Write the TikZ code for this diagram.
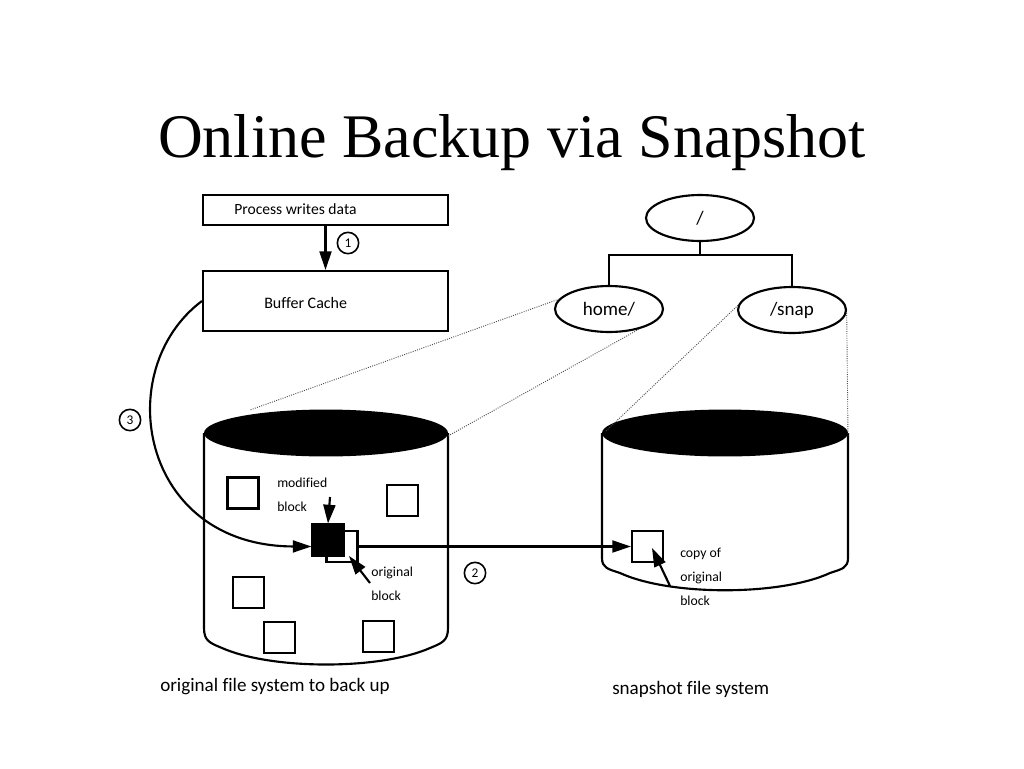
\documentclass[tikz,border=0pt]{standalone}
\usepackage{fontspec}
\setmainfont{Carlito}[Ligatures=NoCommon]
\newfontfamily\titlefont{Liberation Serif}
\usetikzlibrary{arrows.meta,shapes.geometric}
\begin{document}
\begin{tikzpicture}[x=0.75pt,y=-0.75pt,
  every node/.style={inner sep=0pt},
  boxnode/.style={draw, line width=1.6pt, minimum width=183.75pt},
  ovalnode/.style={draw, ellipse, line width=1.6pt, minimum width=81pt, minimum height=34.5pt, font=\fontsize{14.3}{16}\selectfont},
  blk/.style={draw, line width=1.6pt, minimum size=23.25pt, fill=white},
  num/.style={draw, circle, line width=1.2pt, minimum size=16pt, font=\fontsize{10}{11}\selectfont},
  conn/.style={line width=1.6pt},
  arr/.style={conn, -{Triangle[length=14pt,width=9pt]}},
  dots/.style={densely dotted, line width=0.7pt, black!70},
  small/.style={font=\fontsize{10.3}{18}\selectfont, align=left, anchor=north west},
  big/.style={font=\fontsize{14.3}{16}\selectfont, anchor=base west},
  cyl/.style={line width=1.6pt}
]
\useasboundingbox (0,0) rectangle (1024,768);

% title
\node[anchor=base, font=\titlefont\fontsize{46.5}{50}\selectfont] (title) at (512,157) {Online Backup via Snapshot};

% boxes
\node[boxnode, minimum height=22.5pt] (proc) at (325.5,210) {};
\node[anchor=base west, font=\fontsize{11.7}{14}\selectfont] (proct) at (234,214) {Process writes data};
\node[boxnode, minimum height=45pt] (buf) at (325.5,301) {};
\node[anchor=base west, font=\fontsize{12}{14}\selectfont] (buft) at (264,308) {Buffer Cache};
\draw[arr] (proc.south) -- (buf.north);

% number circles
\node[num] (n1) at (348,243) {1};
\node[num] (n2) at (475,573) {2};
\node[num] (n3) at (130,420) {3};

% tree
\node[ovalnode] (root) at (700,218) {/};
\node[ovalnode] (home) at (609,309) {home/};
\node[ovalnode] (snap) at (792,310) {/snap};
\coordinate (j) at (700,255);
\draw[conn] (root.south) -- (j);
\draw[conn] (home.north) |- (j) -| (snap.north);

% left cylinder
\draw[cyl] (204,433) -- (204,628) .. controls (204,641) and (210,643) .. (222,648)
  .. controls (272,670) and (380,670) .. (430,648)
  .. controls (442,643) and (448,641) .. (448,628) -- (448,433);
\fill (326,433) ellipse [x radius=91.5pt, y radius=17.6pt];
\coordinate (lc1) at (250,410);
\coordinate (lc2) at (448,436);

% right cylinder
\draw[cyl] (602,433) -- (602,558) .. controls (602,568) and (608,569) .. (620,573)
  .. controls (670,596) and (780,596) .. (830,573)
  .. controls (842,569) and (848,568) .. (848,558) -- (848,433);
\fill (725,433) ellipse [x radius=92.25pt, y radius=17.6pt];
\coordinate (rc1) at (605,432);
\coordinate (rc2) at (848,436);

% dotted mount lines
\draw[dots] (home.169) -- (lc1);
\draw[dots] (home.-34) -- (lc2);
\draw[dots] (snap.175) -- (rc1);
\draw[dots] (snap.-3) -- (rc2);

% blocks
\node[blk] (b1) at (243,493) {};
\node[blk] (b2) at (402.5,500.5) {};
\node[blk] (b3) at (248.5,592.5) {};
\node[blk] (b4) at (279.5,637.5) {};
\node[blk] (b5) at (378.5,636.5) {};
\node[blk] (orig) at (342,546.5) {};
\node[blk, fill=black] (mod) at (328,540) {};
\node[blk] (copy) at (647.5,546.5) {};

% labels
\node[small] (modl) at (277,478) {modified\\block};
\node[small] (origl) at (371,567) {original\\block};
\node[small] (copyl) at (680,548) {copy of\\original\\block};
\node[big] (lab1) at (160,691) {original file system to back up};
\node[big] (lab2) at (612,694) {snapshot file system};

% arrows
\coordinate (mt) at (330,497);
\draw[arr] (mt) -- (mod.north);
\coordinate (ot) at (370,583);
\coordinate (oh) at (349,556);
\draw[arr] (ot) -- (oh);
\coordinate (ct) at (670,586);
\coordinate (ch) at (652,548);
\draw[arr] (ct) -- (ch);
\draw[arr] (orig.east) -- (copy.west);
\draw[arr] (buf.west) .. controls (110,370) and (140,546) .. (mod.west |- orig.center);
\end{tikzpicture}
\end{document}
